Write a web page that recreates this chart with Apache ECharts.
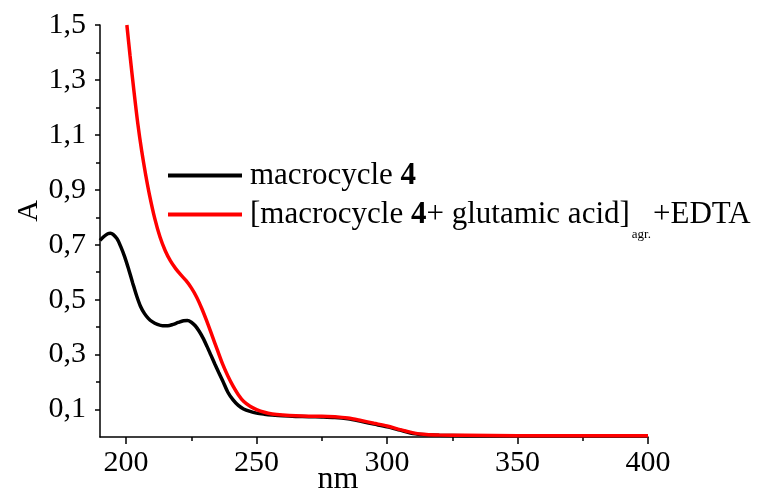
<!DOCTYPE html>
<html>
<head>
    <meta charset="utf-8">
    <title>UV-Vis spectrum</title>
    <script src="https://cdn.jsdelivr.net/npm/echarts@6.0.0/dist/echarts.min.js"></script>
    <style>
        body { margin: 0; background: #fff; }
        #chart { width: 766px; height: 491px; }
    </style>
</head>
<body>
    <div id="chart"></div>
    <script>
        // wavelength (nm) / absorbance pairs
        var blackNm = [190, 191.5, 193, 194, 195, 196.5, 198, 199.5, 201, 202.5, 204, 205.5, 207, 208.5, 210, 212, 214, 216, 218, 220, 222, 223.5, 225, 226.5, 228, 229.5, 231, 232.5, 234, 235.5, 237, 239, 241, 243, 245, 247.5, 250, 253, 256, 260, 265, 270, 275, 280, 285, 290, 295, 300, 305, 310, 315, 320, 330, 350, 375, 400];
        var blackA  = [0.716, 0.73, 0.74, 0.742, 0.738, 0.722, 0.692, 0.655, 0.61, 0.562, 0.515, 0.476, 0.45, 0.432, 0.42, 0.41, 0.405, 0.405, 0.41, 0.417, 0.423, 0.424, 0.418, 0.405, 0.385, 0.36, 0.33, 0.298, 0.266, 0.235, 0.205, 0.163, 0.135, 0.115, 0.102, 0.093, 0.087, 0.083, 0.08, 0.077, 0.075, 0.074, 0.073, 0.071, 0.066, 0.057, 0.047, 0.037, 0.025, 0.013, 0.008, 0.006, 0.005, 0.005, 0.005, 0.005];

        var redNm = [200.3, 201.5, 203, 204.5, 206, 207.5, 209, 211, 213, 215, 217, 219, 221, 223, 225, 227, 229, 231, 233, 235, 237, 239, 241, 243, 245, 247.5, 250, 253, 256, 260, 265, 270, 275, 280, 285, 290, 295, 300, 305, 310, 315, 320, 330, 350, 375, 400];
        var redA  = [1.5, 1.39, 1.26, 1.14, 1.04, 0.955, 0.88, 0.795, 0.728, 0.678, 0.641, 0.613, 0.59, 0.569, 0.543, 0.51, 0.468, 0.42, 0.368, 0.316, 0.265, 0.222, 0.185, 0.154, 0.13, 0.112, 0.1, 0.09, 0.084, 0.08, 0.077, 0.076, 0.076, 0.074, 0.069, 0.06, 0.05, 0.04, 0.027, 0.015, 0.009, 0.007, 0.006, 0.005, 0.005, 0.005];

        var xMajor = [200, 250, 300, 350, 400];
        var xMinor = [225, 275, 325, 375];
        var yMajor = [0.1, 0.3, 0.5, 0.7, 0.9, 1.1, 1.3, 1.5];
        var yMinor = [0.2, 0.4, 0.6, 0.8, 1.0, 1.2, 1.4];

        var seriesNames = ['macrocycle 4', '[macrocycle 4+ glutamic acid]agr.+EDTA'];

        function pairs(xs, ys) {
            return xs.map(function (x, i) { return [x, ys[i]]; });
        }

        var font = 'Liberation Serif';
        var chart = echarts.init(document.getElementById('chart'));

        var option = {
            animation: false,
            grid: { left: 100, right: 118, top: 25, bottom: 54, containLabel: false, outerBoundsMode: 'none' },
            legend: {
                left: 168, top: 160,
                padding: 0,
                orient: 'vertical',
                icon: 'rect',
                itemWidth: 74, itemHeight: 4,
                itemGap: -3.5,
                data: seriesNames,
                textStyle: {
                    fontFamily: font, fontSize: 31, lineHeight: 31, color: '#000',
                    padding: [0, 0, 0, 3],
                    rich: {
                        b: { fontFamily: font, fontSize: 31, lineHeight: 31, fontWeight: 'bold', color: '#000' },
                        sub: { fontFamily: font, fontSize: 13, lineHeight: 13, color: '#000', padding: [41, 2, 0, 2] }
                    }
                },
                formatter: function (name) {
                    if (name === seriesNames[0]) return 'macrocycle {b|4}';
                    return '[macrocycle {b|4}+ glutamic acid]{sub|agr.}+EDTA';
                }
            },
            xAxis: [{
                type: 'value', min: 190, max: 400,
                name: 'nm', nameLocation: 'middle', nameGap: 27, nameMoveOverlap: false,
                nameTextStyle: { fontFamily: font, fontSize: 32, color: '#000', padding: [0, 72, 0, 0] },
                axisLine: { lineStyle: { color: '#000', width: 1.5 } },
                axisTick: { length: 7, lineStyle: { color: '#000', width: 1.5 }, customValues: xMajor },
                axisLabel: { fontFamily: font, fontSize: 30, color: '#000', margin: 11, customValues: xMajor },
                splitLine: { show: false }
            }, {
                type: 'value', min: 190, max: 400, position: 'bottom',
                axisLine: { show: false },
                axisTick: { length: 4, lineStyle: { color: '#000', width: 1.5 }, customValues: xMinor },
                axisLabel: { show: false },
                splitLine: { show: false }
            }],
            yAxis: [{
                type: 'value', min: 0, max: 1.5,
                name: 'A', nameLocation: 'middle', nameGap: 56, nameRotate: 90, nameMoveOverlap: false,
                nameTextStyle: { fontFamily: font, fontSize: 30, color: '#000', padding: [0, 0, 0, 40] },
                axisLine: { show: true, lineStyle: { color: '#000', width: 1.5 } },
                axisTick: { show: true, length: 5, lineStyle: { color: '#000', width: 1.5 }, customValues: yMajor },
                axisLabel: {
                    fontFamily: font, fontSize: 30, color: '#000', margin: 14, customValues: yMajor,
                    formatter: function (v) { return v.toFixed(1).replace('.', ','); }
                },
                splitLine: { show: false }
            }, {
                type: 'value', min: 0, max: 1.5, position: 'left',
                axisLine: { show: false },
                axisTick: { show: true, length: 4, lineStyle: { color: '#000', width: 1.5 }, customValues: yMinor },
                axisLabel: { show: false },
                splitLine: { show: false }
            }],
            series: [{
                name: seriesNames[0], type: 'line', smooth: 0.3, symbol: 'none',
                data: pairs(blackNm, blackA),
                lineStyle: { color: '#000', width: 3.5 },
                itemStyle: { color: '#000' }
            }, {
                name: seriesNames[1], type: 'line', smooth: 0.3, symbol: 'none',
                data: pairs(redNm, redA),
                lineStyle: { color: '#ff0000', width: 3.5 },
                itemStyle: { color: '#ff0000' }
            }]
        };

        chart.setOption(option);
    </script>
</body>
</html>
